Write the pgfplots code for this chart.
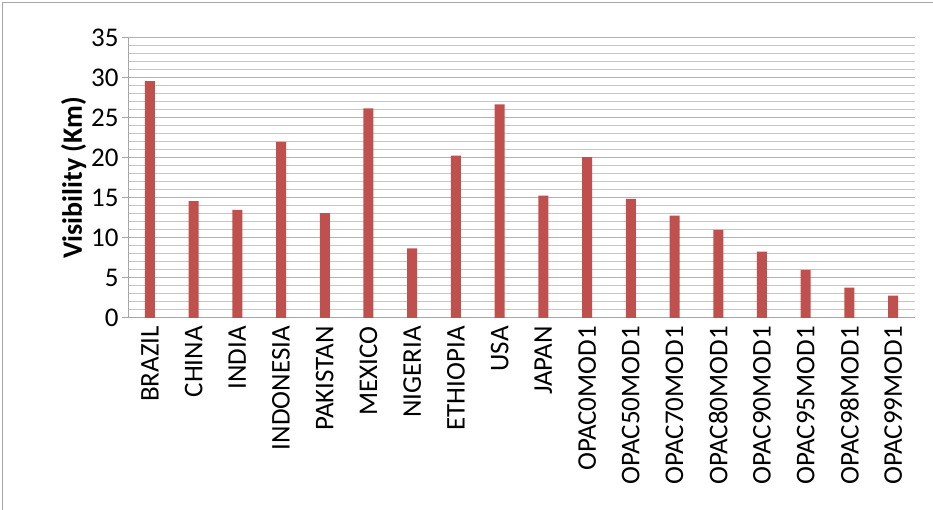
\documentclass[border=0pt]{standalone}
\usepackage{pgfplots}
\pgfplotsset{compat=1.18}
\usepackage{fontspec}
\setmainfont{Carlito}
\definecolor{barred}{HTML}{C0504D}
\begin{document}
\begin{tikzpicture}
\path[use as bounding box] (0pt,0pt) rectangle (933pt,510pt);
\draw[gray!70,line width=0.8pt] (2pt,-5pt) -- (2pt,508pt) -- (940pt,508pt);
\begin{axis}[at={(128pt,192pt)},anchor=south west,scale only axis,width=787pt,height=280pt,
  ymin=0,ymax=35,ytick={0,5,...,35},minor ytick={1,...,34},
  xmin=-0.5,xmax=17.5,xtick={0,...,17},
  xticklabels={BRAZIL,CHINA,INDIA,INDONESIA,PAKISTAN,MEXICO,NIGERIA,ETHIOPIA,USA,JAPAN,OPAC0MOD1,OPAC50MOD1,OPAC70MOD1,OPAC80MOD1,OPAC90MOD1,OPAC95MOD1,OPAC98MOD1,OPAC99MOD1},
  x tick label style={rotate=90,anchor=east,font=\fontsize{27}{27}\selectfont,inner sep=2pt},
  y tick label style={font=\fontsize{27}{27}\selectfont},
  /pgf/number format/assume math mode=true,
  ymajorgrids,yminorgrids,
  major grid style={gray!60,line width=1pt},
  minor grid style={gray!45,line width=1pt},
  axis line style={gray!70,line width=1pt},
  axis x line*=bottom, axis y line*=left,
  x axis line style={-},y axis line style={-},
  xtick style={draw=none}, minor tick length=0pt,
  major tick length=6pt, ytick style={gray!70,line width=1pt},
  tick align=outside,
  ylabel={\textbf{Visibility (Km)}},
  ylabel style={font=\fontsize{28}{28}\selectfont,yshift=-2pt},
  ]
\addplot[ybar,bar width=10pt,fill=barred,draw=none] coordinates {
(0,29.6)(1,14.6)(2,13.5)(3,22.0)(4,13.1)(5,26.2)(6,8.7)(7,20.3)(8,26.7)(9,15.3)
(10,20.1)(11,14.9)(12,12.8)(13,11.0)(14,8.3)(15,6.0)(16,3.8)(17,2.8)};
\end{axis}
\end{tikzpicture}
\end{document}
